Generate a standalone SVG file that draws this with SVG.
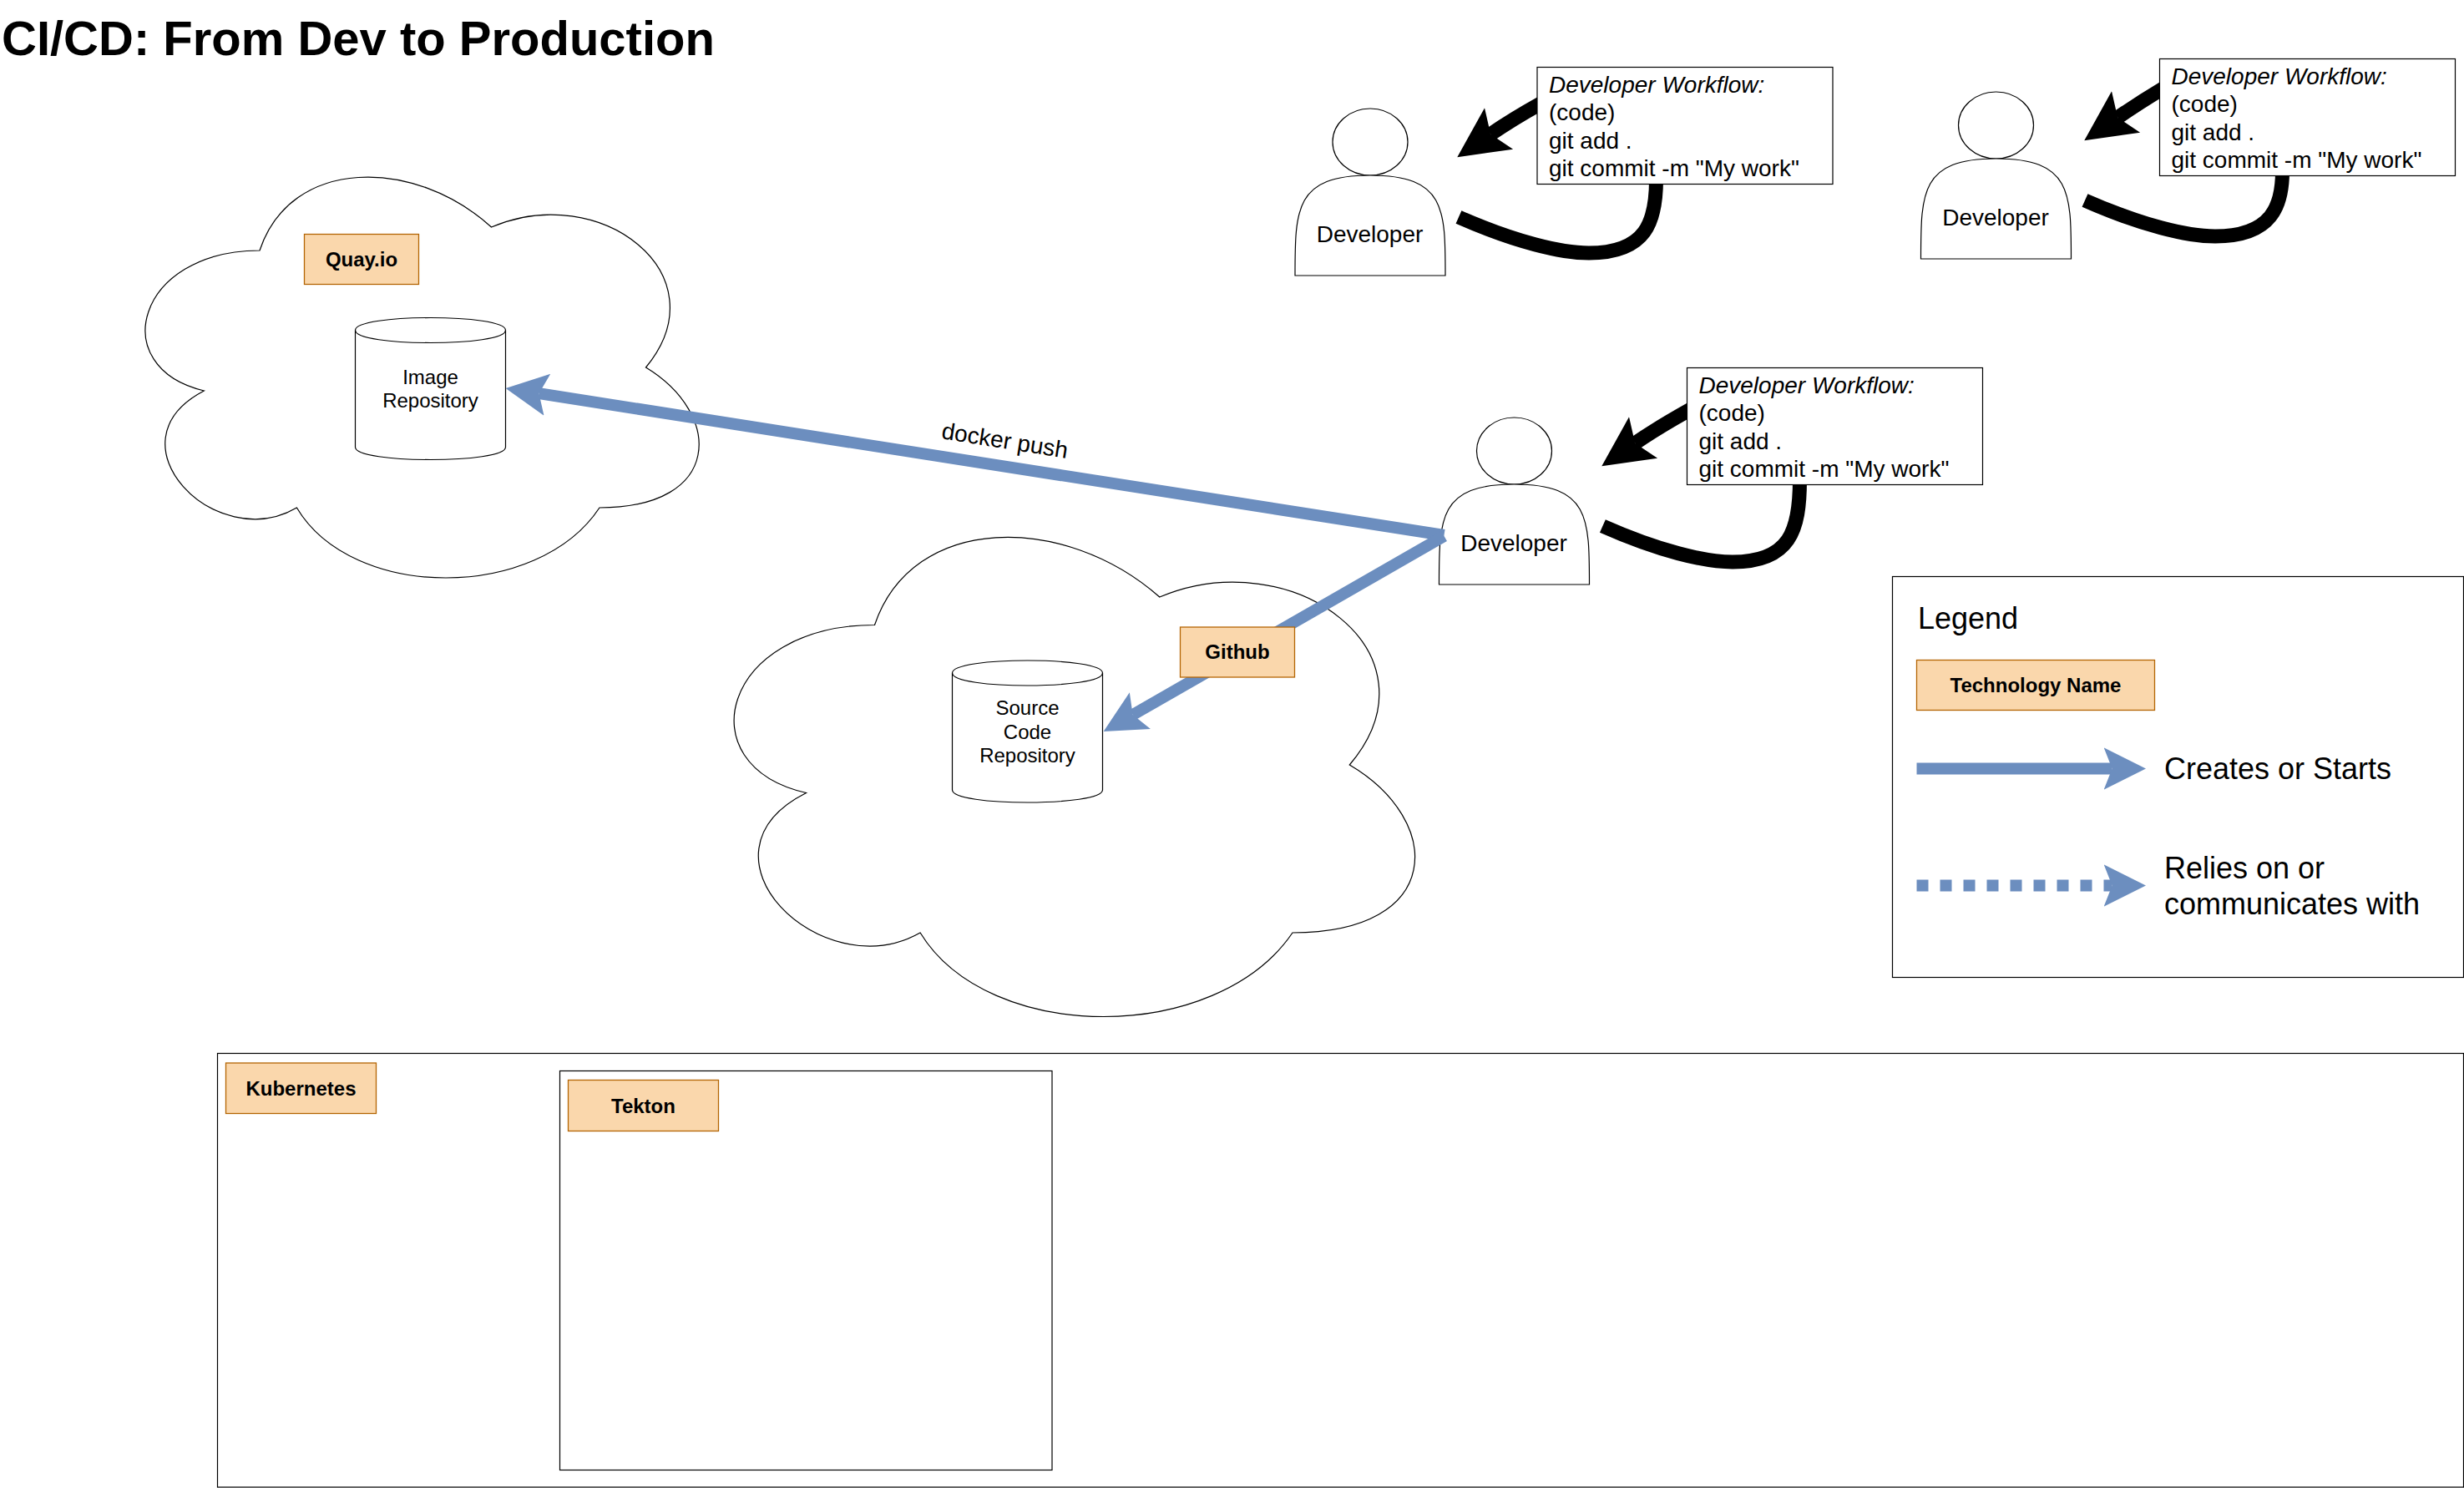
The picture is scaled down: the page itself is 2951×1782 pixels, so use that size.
<svg xmlns="http://www.w3.org/2000/svg" width="2951" height="1782" viewBox="0 0 2951 1782">
<style>
text{font-family:"Liberation Sans",Arial,Helvetica,sans-serif;fill:#000}
.thin{fill:#fff;stroke:#000;stroke-width:1.2}
.tag{fill:#fad7ac;stroke:#b46504;stroke-width:1.3}
.tagt{font-size:24px;font-weight:bold;text-anchor:middle}
.l24{font-size:24px;text-anchor:middle}
.l28{font-size:28px;text-anchor:middle}
.wf{font-size:28px}
.l36{font-size:36px}
.blue{fill:none;stroke:#6c8ebf;stroke-width:14}
.blk{fill:none;stroke:#000;stroke-width:17}
</style>
<defs>
<marker id="hb" markerUnits="userSpaceOnUse" markerWidth="54" markerHeight="54" refX="10" refY="26" orient="auto"><path d="M50.4 26L0 .8 10 26 0 51.2Z" fill="#6c8ebf"/></marker>
<marker id="hk" markerUnits="userSpaceOnUse" markerWidth="64" markerHeight="64" refX="12" refY="31" orient="auto"><path d="M60.5 31L0 1 12 31 0 61Z" fill="#000"/></marker>
<path id="actor" d="M0 200C0 120 0 80 90 80 180 80 180 120 180 200Z"/>
</defs>
<text id="title" x="2" y="65.500" font-size="58" font-weight="bold">CI/CD: From Dev to Production</text>
<g id="cloud-quay"><path class="thin" d="M311 300C163 300 126 440 244.400 468C126 530 259 664.800 355.400 608C422 720 644 720 718 608C866 608 866 496 773.500 440C866 328 718 216 588.500 272C496 188 348 188 311 300Z"/></g>
<g id="cloud-github"><path class="thin" d="M1047.500 748.500C865.500 748.500 820 916 965.600 949.500C820 1023 983.800 1184 1102.100 1117C1184 1251 1457 1251 1548 1117C1730 1117 1730 983 1616.300 916C1730 782 1548 648 1388.800 715C1275 614.500 1093 614.500 1047.500 748.500Z"/></g>
<g id="repo-image"><path class="thin" d="M425.500 395.500C425.500 375.500 605.500 375.500 605.500 395.500V535.500C605.500 555.500 425.500 555.500 425.500 535.500Z"/><path class="thin" style="fill:none" d="M425.500 395.500C425.500 415.500 605.500 415.500 605.500 395.500"/><text class="l24" x="515.500" y="459.500">Image</text><text class="l24" x="515.500" y="487.500">Repository</text></g>
<g id="repo-source"><path class="thin" d="M1140.500 806C1140.500 786 1320.500 786 1320.500 806V946C1320.500 966 1140.500 966 1140.500 946Z"/><path class="thin" style="fill:none" d="M1140.500 806C1140.500 826 1320.500 826 1320.500 806"/><text class="l24" x="1230.500" y="856">Source</text><text class="l24" x="1230.500" y="884.500">Code</text><text class="l24" x="1230.500" y="913">Repository</text></g>
<g id="dev-1" transform="translate(1551 130)"><ellipse class="thin" cx="90" cy="40" rx="45" ry="40"/><use href="#actor" class="thin"/><text class="l28" x="89.500" y="159.500">Developer</text></g>
<g id="dev-2" transform="translate(1723.500 500)"><ellipse class="thin" cx="90" cy="40" rx="45" ry="40"/><use href="#actor" class="thin"/><text class="l28" x="89.500" y="159.500">Developer</text></g>
<g id="dev-3" transform="translate(2300.500 110)"><ellipse class="thin" cx="90" cy="40" rx="45" ry="40"/><use href="#actor" class="thin"/><text class="l28" x="89.500" y="159.500">Developer</text></g>
<g id="kubernetes"><rect class="thin" x="260.500" y="1261.500" width="2690" height="519.500"/></g>
<g id="tekton"><rect class="thin" x="670.500" y="1282.500" width="589.500" height="478"/></g>
<g id="connectors">
<path class="blue" marker-end="url(#hb)" d="M1729.500 641L645.500 471.200"/>
<path class="blue" marker-end="url(#hb)" d="M1729.500 642L1356.700 856"/>
<path class="blk" marker-end="url(#hk)" d="M1846 123.500Q1811 143 1785.200 160.800"/>
<path class="blk" d="M1983.500 215C1983.500 265 1972 303 1903 303 1870 303 1815 290 1747 260"/>
<path class="blk" marker-end="url(#hk)" d="M2025 490Q1984 513 1958.200 530.800"/>
<path class="blk" d="M2155.500 575C2155.500 635 2144 673 2075 673 2042 673 1987 660 1919.400 630"/>
<path class="blk" marker-end="url(#hk)" d="M2592 105Q2562 123 2536.200 140.800"/>
<path class="blk" d="M2733.500 205C2733.500 245 2722 283 2653 283 2620 283 2565 270 2497 240"/>
<text class="l28" transform="translate(1202 537) rotate(9)">docker push</text>
</g>
<g id="tag-quay"><rect class="tag" x="364.500" y="280.500" width="137" height="60"/><text class="tagt" x="433" y="318.500">Quay.io</text></g>
<g id="tag-github"><rect class="tag" x="1413.500" y="751" width="137" height="60"/><text class="tagt" x="1482" y="789">Github</text></g>
<g id="tag-kubernetes"><rect class="tag" x="270.500" y="1273" width="180" height="60.500"/><text class="tagt" x="360.500" y="1311.500">Kubernetes</text></g>
<g id="tag-tekton"><rect class="tag" x="680.500" y="1293.500" width="180" height="61"/><text class="tagt" x="770.500" y="1332.500">Tekton</text></g>
<g id="workflow-1"><rect class="thin" x="1841" y="80.500" width="354" height="140"/><text class="wf" y="111"><tspan x="1855" font-style="italic">Developer Workflow:</tspan><tspan x="1855" dy="33">(code)</tspan><tspan x="1855" dy="33.500">git add .</tspan><tspan x="1855" dy="33.500">git commit -m "My work"</tspan></text></g>
<g id="workflow-2"><rect class="thin" x="2020.500" y="440.500" width="354" height="140"/><text class="wf" y="471"><tspan x="2034.500" font-style="italic">Developer Workflow:</tspan><tspan x="2034.500" dy="33">(code)</tspan><tspan x="2034.500" dy="33.500">git add .</tspan><tspan x="2034.500" dy="33.500">git commit -m "My work"</tspan></text></g>
<g id="workflow-3"><rect class="thin" x="2586.500" y="70.500" width="354" height="140"/><text class="wf" y="101"><tspan x="2600.500" font-style="italic">Developer Workflow:</tspan><tspan x="2600.500" dy="33">(code)</tspan><tspan x="2600.500" dy="33.500">git add .</tspan><tspan x="2600.500" dy="33.500">git commit -m "My work"</tspan></text></g>
<g id="legend"><rect class="thin" x="2266.500" y="690.500" width="684" height="480"/><text class="l36" x="2297" y="753">Legend</text><rect class="tag" x="2295.500" y="790.500" width="285" height="60"/><text class="tagt" x="2438" y="828.500">Technology Name</text>
<path class="blue" marker-end="url(#hb)" d="M2295.500 920.500H2529.600"/><text class="l36" x="2592" y="933">Creates or Starts</text>
<path class="blue" stroke-dasharray="14 14" marker-end="url(#hb)" d="M2295.500 1060.500H2529.600"/><text class="l36" x="2592" y="1052">Relies on or</text><text class="l36" x="2592" y="1095">communicates with</text></g>
</svg>
